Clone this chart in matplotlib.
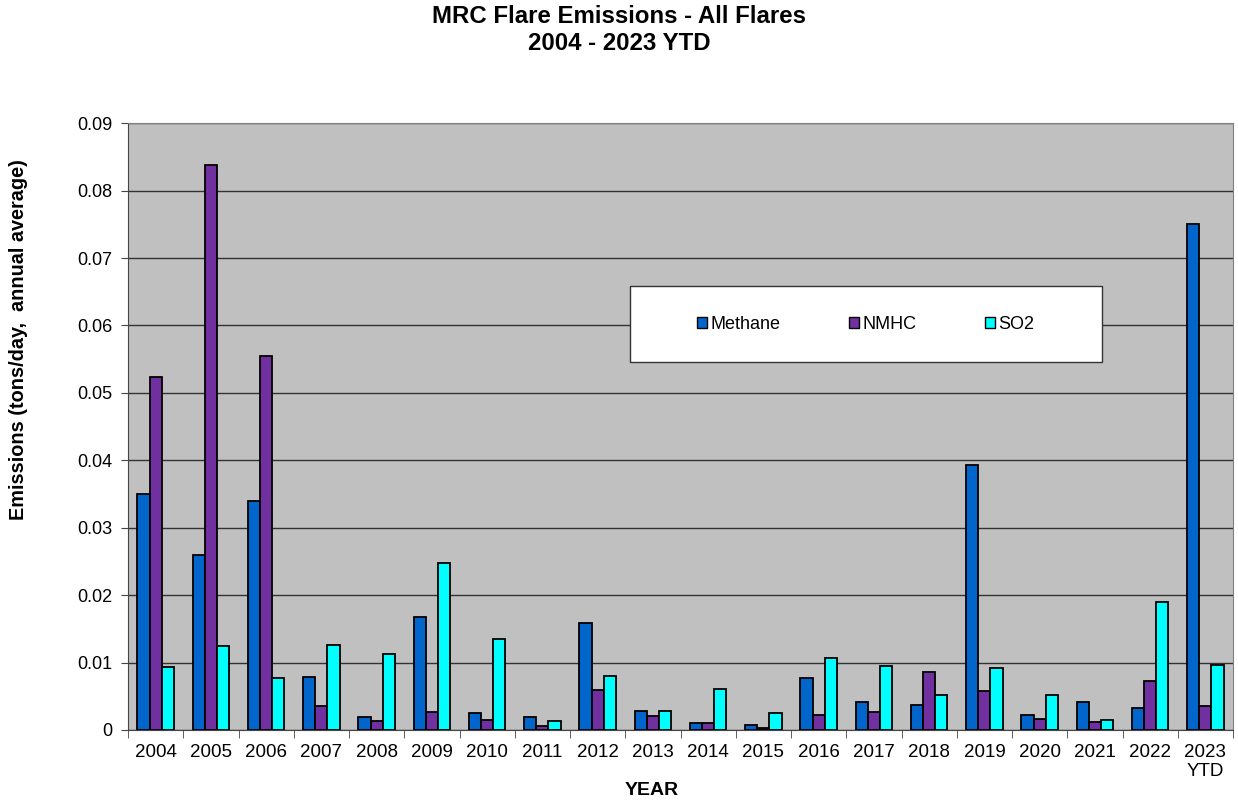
import numpy as np
import matplotlib
matplotlib.use("Agg")
import matplotlib.pyplot as plt
from matplotlib.patches import Rectangle

plt.rcParams['font.family'] = ['Liberation Sans', 'DejaVu Sans']

# ---- Data (tons/day, annual average) ----
years = ["2004", "2005", "2006", "2007", "2008", "2009", "2010", "2011", "2012", "2013",
         "2014", "2015", "2016", "2017", "2018", "2019", "2020", "2021", "2022", "2023\nYTD"]
methane = [0.0350, 0.0260, 0.0340, 0.0079, 0.0020, 0.0168, 0.0025, 0.0019, 0.0159, 0.0028,
           0.0011, 0.0008, 0.0077, 0.0042, 0.0037, 0.0393, 0.0022, 0.0042, 0.0033, 0.0750]
nmhc = [0.0524, 0.0838, 0.0555, 0.0036, 0.0013, 0.0027, 0.0015, 0.0006, 0.0059, 0.0021,
        0.0011, 0.0003, 0.0022, 0.0027, 0.0086, 0.0058, 0.0016, 0.0012, 0.0073, 0.0036]
so2 = [0.0093, 0.0125, 0.0077, 0.0126, 0.0113, 0.0248, 0.0135, 0.0013, 0.0080, 0.0028,
       0.0061, 0.0025, 0.0107, 0.0095, 0.0052, 0.0092, 0.0052, 0.0015, 0.0190, 0.0097]

series = [("Methane", methane, "#0066CC"),
          ("NMHC", nmhc, "#7030A0"),
          ("SO2", so2, "#00FFFF")]

fig = plt.figure(figsize=(12.38, 8), dpi=100)
ax = fig.add_axes([0.1034, 0.0875, 0.8926, 0.7585])
ax.set_facecolor("#C0C0C0")

x = np.arange(len(years))
w = 0.22
for i, (name, vals, col) in enumerate(series):
    ax.bar(x + (i - 1) * w, vals, width=w, color=col, edgecolor="black",
           linewidth=1.3, label=name, zorder=3)

ax.set_xlim(-0.5, len(years) - 0.5)
ax.set_ylim(0, 0.09)
ax.set_yticks(np.arange(0, 0.0901, 0.01))
ax.set_yticklabels(["0"] + [f"{v:.2f}" for v in np.arange(0.01, 0.0901, 0.01)], fontsize=13)
ax.yaxis.grid(True, color="#333333", linewidth=1.0, zorder=0)

ax.set_xticks(x)
ax.set_xticklabels(years, fontsize=13.5, linespacing=1.2)
ax.set_xticks(np.arange(-0.5, len(years), 1), minor=True)
ax.tick_params(axis="x", which="major", length=0, pad=10)
ax.tick_params(axis="x", which="minor", length=6, direction="out", color="#444444")
ax.tick_params(axis="y", length=5, direction="out", color="#444444", pad=6)

for side in ["top", "right"]:
    ax.spines[side].set_color("#808080")
for side in ["left", "bottom"]:
    ax.spines[side].set_color("#444444")

ax.set_xlabel("YEAR", fontsize=14, fontweight="bold")
ax.xaxis.set_label_coords(0.474, -0.085)
ax.set_ylabel("Emissions (tons/day,  annual average)", fontsize=14.3, fontweight="bold")
ax.yaxis.set_label_coords(-0.0905, 0.644)

fig.text(0.5, 0.979, "MRC Flare Emissions - All Flares", ha="center", va="center",
         fontsize=17.3, fontweight="bold")
fig.text(0.5, 0.946, "2004 - 2023 YTD", ha="center", va="center",
         fontsize=17.3, fontweight="bold")

# legend box
box = Rectangle((0.454, 0.606), 0.427, 0.125, transform=ax.transAxes,
                facecolor="white", edgecolor="#333333", linewidth=1.0, zorder=5)
ax.add_patch(box)
leg = ax.legend(loc="center", bbox_to_anchor=(0.454 + 0.427 / 2, 0.606 + 0.0625),
                ncol=3, frameon=False, fontsize=13, handlelength=0.55, handleheight=0.55,
                handletextpad=0.2, columnspacing=3.8)
leg.set_zorder(6)
for h in leg.legend_handles:
    h.set_linewidth(1.0)

fig.savefig("out.png", dpi=100)
